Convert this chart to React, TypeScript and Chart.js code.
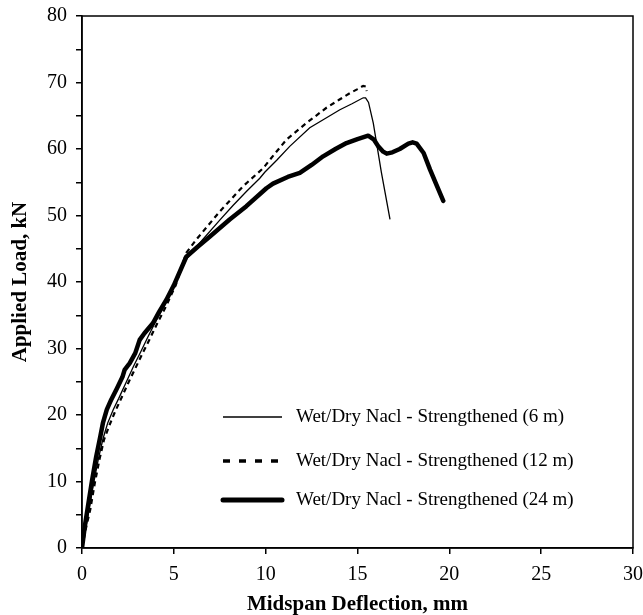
import React, { useEffect, useRef } from "react";
import { Chart, registerables } from "chart.js";

Chart.register(...registerables);

const seriesLabels = [
  "Wet/Dry Nacl - Strengthened (6 m)",
  "Wet/Dry Nacl - Strengthened (12 m)",
  "Wet/Dry Nacl - Strengthened (24 m)",
];

const x6 = [0, 0.2, 0.4, 0.65, 0.9, 1.15, 1.4, 1.7, 2.0, 2.5, 2.8, 3.2, 3.6, 4.0, 4.5, 5.0, 5.7, 6.23, 7.5, 8.22, 8.95, 9.68, 9.95, 10.6, 11.31, 12.4, 13.13, 14.04, 14.7, 15.31, 15.44, 15.6, 15.86, 16.3, 16.77];
const y6 = [0, 3.0, 6.0, 10.0, 13.5, 16.5, 18.8, 20.8, 22.5, 25.5, 27.3, 29.5, 31.8, 34.0, 36.5, 39.5, 43.5, 45.3, 49.3, 51.5, 53.6, 55.6, 56.5, 58.3, 60.4, 63.2, 64.4, 65.9, 66.8, 67.7, 67.7, 67.0, 63.9, 56.5, 49.4];

const x12 = [0, 0.2, 0.45, 0.7, 0.95, 1.2, 1.5, 1.8, 2.1, 2.6, 2.9, 3.3, 3.7, 4.1, 4.6, 5.1, 5.68, 6.23, 7.5, 8.77, 9.86, 10.5, 11.13, 12.22, 13.31, 14.0, 14.59, 15.0, 15.31, 15.45, 15.5];
const y12 = [0, 2.8, 5.8, 9.8, 13.3, 16.3, 18.5, 20.5, 22.3, 25.3, 27.0, 29.3, 31.5, 33.8, 36.5, 39.5, 44.4, 46.4, 50.6, 54.4, 57.1, 59.3, 61.4, 63.9, 66.2, 67.4, 68.4, 69.0, 69.5, 69.4, 68.7];

const x24 = [0, 0.15, 0.32, 0.55, 0.77, 1.0, 1.14, 1.35, 1.59, 1.9, 2.2, 2.32, 2.6, 2.9, 3.14, 3.4, 3.86, 4.2, 4.59, 5.0, 5.68, 6.3, 6.95, 8.04, 8.95, 10.04, 10.4, 11.2, 11.86, 12.5, 13.13, 13.8, 14.4, 15.0, 15.58, 15.9, 16.13, 16.4, 16.59, 16.9, 17.3, 17.77, 18.0, 18.22, 18.6, 18.95, 19.3, 19.67];
const y24 = [0, 3.2, 6.2, 10.2, 13.7, 16.8, 18.8, 20.8, 22.3, 24.0, 25.7, 26.8, 27.8, 29.3, 31.3, 32.3, 33.8, 35.5, 37.3, 39.5, 43.8, 45.3, 46.8, 49.4, 51.4, 54.1, 54.8, 55.8, 56.4, 57.6, 58.9, 60.0, 60.9, 61.5, 62.0, 61.4, 60.4, 59.6, 59.3, 59.5, 60.0, 60.8, 61.0, 60.8, 59.4, 56.9, 54.6, 52.2];

const xTicksMax = 30;
const yTicksMax = 80;

const toPoints = (xs: number[], ys: number[]) => xs.map((x, i) => ({ x, y: ys[i] }));

const FONT = "'Liberation Serif', 'Times New Roman', serif";

const styles = [
  { width: 1.3, dash: [] as number[] },
  { width: 2.2, dash: [5, 4] },
  { width: 4.5, dash: [] as number[] },
];

const boxAndLegend = {
  id: "boxAndLegend",
  afterDraw(chart: any) {
    const { ctx, chartArea } = chart;
    ctx.save();
    ctx.strokeStyle = "#000";
    ctx.lineWidth = 1.5;
    ctx.strokeRect(chartArea.left, chartArea.top, chartArea.right - chartArea.left, chartArea.bottom - chartArea.top);
    const lx0 = chartArea.left + 141;
    const lx1 = chartArea.left + 200;
    const rows = [chartArea.top + 401, chartArea.top + 445, chartArea.top + 484];
    ctx.font = `19px ${FONT}`;
    ctx.fillStyle = "#000";
    ctx.textBaseline = "middle";
    seriesLabels.forEach((label, i) => {
      ctx.beginPath();
      ctx.lineWidth = i === 0 ? 1.5 : i === 1 ? 3.5 : 5;
      ctx.lineCap = i === 2 ? "round" : "butt";
      ctx.setLineDash(i === 1 ? [7, 9] : []);
      ctx.moveTo(lx0, rows[i]);
      ctx.lineTo(lx1, rows[i]);
      ctx.stroke();
      ctx.setLineDash([]);
      ctx.fillText(label, lx1 + 14, rows[i]);
    });
    ctx.restore();
  },
};

export default function App() {
  const ref = useRef<HTMLCanvasElement | null>(null);
  useEffect(() => {
    if (!ref.current) return;
    const chart = new Chart(ref.current, {
      type: "scatter",
      data: {
        datasets: [
          { label: seriesLabels[0], data: toPoints(x6, y6), borderColor: "#000", borderWidth: styles[0].width, showLine: true, pointRadius: 0, tension: 0 },
          { label: seriesLabels[1], data: toPoints(x12, y12), borderColor: "#000", borderWidth: styles[1].width, borderDash: styles[1].dash, showLine: true, pointRadius: 0, tension: 0 },
          { label: seriesLabels[2], data: toPoints(x24, y24), borderColor: "#000", borderWidth: styles[2].width, borderCapStyle: "round", borderJoinStyle: "round", showLine: true, pointRadius: 0, tension: 0 },
        ],
      },
      options: {
        animation: false,
        responsive: false,
        layout: { padding: { left: 0, right: 10, top: 16, bottom: 0 } },
        plugins: { legend: { display: false }, tooltip: { enabled: false } },
        scales: {
          x: {
            type: "linear",
            min: 0,
            max: xTicksMax,
            ticks: { stepSize: 5, color: "#000", font: { family: FONT, size: 20 }, padding: 9 },
            grid: { display: true, drawOnChartArea: false, drawTicks: true, tickLength: 6, color: "#000", lineWidth: 1.5 },
            border: { display: true, color: "#000", width: 1.5 },
            title: { display: true, text: "Midspan Deflection, mm", color: "#000", font: { family: FONT, size: 21, weight: "bold" }, padding: { top: 6, bottom: -2 } },
            afterFit: (s: any) => { s.height = 67; s.paddingLeft = 0; s.paddingRight = 0; },
          },
          y: {
            type: "linear",
            min: 0,
            max: yTicksMax,
            ticks: {
              stepSize: 5,
              color: "#000",
              font: { family: FONT, size: 20 },
              padding: 9,
              callback: (v: any) => (v % 10 === 0 ? String(v) : ""),
            },
            grid: { display: true, drawOnChartArea: false, drawTicks: true, tickLength: 6, color: "#000", lineWidth: 1.5 },
            border: { display: true, color: "#000", width: 1.5 },
            title: { display: true, text: "Applied Load, kN", color: "#000", font: { family: FONT, size: 21, weight: "bold" }, padding: { top: 8, bottom: 4 } },
            afterFit: (s: any) => { s.width = 82; s.paddingTop = 0; s.paddingBottom = 0; },
          },
        },
      },
      plugins: [boxAndLegend],
    });
    return () => chart.destroy();
  }, []);
  return (
    <div style={{ position: "fixed", left: 0, top: 0, width: 643, height: 615, background: "#fff" }}>
      <canvas ref={ref} width={643} height={615} style={{ width: 643, height: 615, display: "block" }} />
    </div>
  );
}
